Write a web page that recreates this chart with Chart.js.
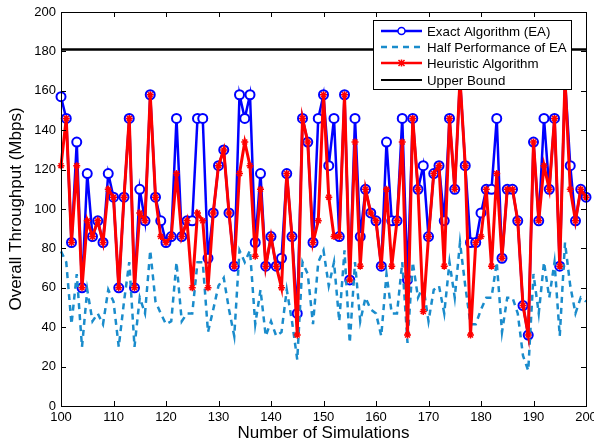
<!DOCTYPE html>
<html>
<head>
<meta charset="utf-8">
<script src="https://cdn.jsdelivr.net/npm/chart.js@4.4.1/dist/chart.umd.min.js"></script>
<style>
  html, body { margin: 0; padding: 0; background: #fff; }
  #wrap { width: 594px; height: 444px; }
</style>
</head>
<body>
<div id="wrap"><canvas id="myChart" width="594" height="444"></canvas></div>
<script>
// x axis: simulation number 100..200
const simulations = Array.from({ length: 101 }, (_, i) => 100 + i);

// Exact Algorithm (EA)
const exactAlg = [
  157, 146, 83, 134, 60, 118, 86, 94, 83, 118,
  106, 60, 106, 146, 60, 110, 94, 158, 106, 94,
  83, 86, 146, 86, 94, 94, 146, 146, 75, 98,
  122, 130, 98, 71, 158, 146, 158, 83, 118, 71,
  86, 71, 75, 118, 86, 47, 146, 134, 83, 146,
  158, 122, 146, 86, 158, 64, 146, 86, 110, 98,
  94, 71, 134, 94, 94, 146, 64, 146, 110, 122,
  86, 118, 122, 94, 146, 110, 166, 122, 83, 83,
  98, 110, 110, 146, 75, 110, 110, 94, 51, 36,
  134, 94, 146, 110, 146, 71, 166, 122, 94, 110, 106
];

// Half Performance of EA
const halfEA = [
  78.5, 73, 41.5, 67, 30, 59, 43, 47, 41.5, 59,
  53, 30, 53, 73, 30, 55, 47, 79, 53, 47,
  41.5, 43, 73, 43, 47, 47, 73, 73, 37.5, 49,
  61, 65, 49, 35.5, 79, 73, 79, 41.5, 59, 35.5,
  43, 35.5, 37.5, 59, 43, 23.5, 73, 67, 41.5, 73,
  79, 61, 73, 43, 79, 32, 73, 43, 55, 49,
  47, 35.5, 67, 47, 47, 73, 32, 73, 55, 61,
  43, 59, 61, 47, 73, 55, 83, 61, 41.5, 41.5,
  49, 55, 55, 73, 37.5, 55, 55, 47, 25.5, 18,
  67, 47, 73, 55, 73, 35.5, 83, 61, 47, 55, 53
];

// Heuristic Algorithm
const heuristicAlg = [
  122, 146, 83, 122, 60, 94, 86, 94, 83, 110,
  106, 60, 106, 146, 60, 98, 94, 158, 106, 86,
  83, 86, 118, 86, 94, 60, 98, 94, 60, 98,
  122, 130, 98, 71, 118, 134, 122, 76, 110, 71,
  86, 71, 60, 118, 86, 36, 146, 134, 83, 94,
  158, 106, 86, 86, 158, 64, 134, 71, 110, 98,
  94, 71, 110, 71, 94, 134, 36, 146, 110, 48,
  86, 118, 122, 71, 146, 110, 166, 122, 36, 83,
  86, 110, 71, 118, 75, 110, 110, 94, 51, 36,
  134, 94, 122, 110, 146, 71, 166, 110, 94, 110, 106
];

const upperBound = 181;
const yTicks = [0, 20, 40, 60, 80, 100, 120, 140, 160, 180, 200];
const xTicks = [100, 110, 120, 130, 140, 150, 160, 170, 180, 190, 200];

const blue = '#0000ff';
const lightBlue = '#1a8ccc';
const red = '#ff0000';
const fontFamily = '"Liberation Sans", Arial, sans-serif';

// matlab style box with inward ticks + legend
const boxPlugin = {
  id: 'matlabBox',
  afterDraw(chart) {
    const ctx = chart.ctx;
    const a = chart.chartArea;
    const xs = chart.scales.x;
    const ys = chart.scales.y;
    ctx.save();
    ctx.strokeStyle = '#000';
    ctx.lineWidth = 1;
    ctx.strokeRect(a.left + 0.5, a.top + 0.5, a.right - a.left, a.bottom - a.top);
    xTicks.forEach((v) => {
      const px = Math.round(xs.getPixelForValue(v)) + 0.5;
      ctx.beginPath();
      ctx.moveTo(px, a.bottom); ctx.lineTo(px, a.bottom - 5);
      ctx.moveTo(px, a.top); ctx.lineTo(px, a.top + 5);
      ctx.stroke();
    });
    yTicks.forEach((v) => {
      const py = Math.round(ys.getPixelForValue(v)) + 0.5;
      ctx.beginPath();
      ctx.moveTo(a.left, py); ctx.lineTo(a.left + 5, py);
      ctx.moveTo(a.right, py); ctx.lineTo(a.right - 5, py);
      ctx.stroke();
    });

    // legend
    const lx = 373, ly = 20, lw = 198, lh = 69;
    ctx.fillStyle = '#fff';
    ctx.fillRect(lx, ly, lw, lh);
    ctx.strokeStyle = '#000';
    ctx.strokeRect(lx + 0.5, ly + 0.5, lw, lh);
    const rows = [
      { label: 'Exact Algorithm (EA)', color: blue, dash: [], marker: 'circle', y: 31 },
      { label: 'Half Performance of EA', color: lightBlue, dash: [6, 5], marker: null, y: 47 },
      { label: 'Heuristic Algorithm', color: red, dash: [], marker: 'star', y: 63 },
      { label: 'Upper Bound', color: '#000', dash: [], marker: null, y: 80 }
    ];
    rows.forEach((r) => {
      ctx.setLineDash(r.dash);
      ctx.strokeStyle = r.color;
      ctx.lineWidth = r.color === '#000' ? 2 : 2.5;
      ctx.beginPath();
      ctx.moveTo(381, r.y); ctx.lineTo(422, r.y);
      ctx.stroke();
      ctx.setLineDash([]);
      if (r.marker === 'circle') {
        ctx.fillStyle = '#fff';
        ctx.lineWidth = 1.5;
        ctx.beginPath();
        ctx.arc(401.5, r.y, 3.5, 0, Math.PI * 2);
        ctx.fill(); ctx.stroke();
      } else if (r.marker === 'star') {
        ctx.lineWidth = 1.5;
        ctx.beginPath();
        ctx.moveTo(398.5, r.y - 3); ctx.lineTo(404.5, r.y + 3);
        ctx.moveTo(404.5, r.y - 3); ctx.lineTo(398.5, r.y + 3);
        ctx.moveTo(401.5, r.y - 3.5); ctx.lineTo(401.5, r.y + 3.5);
        ctx.stroke();
      }
      ctx.fillStyle = '#000';
      ctx.font = '13.3px ' + fontFamily;
      ctx.textBaseline = 'middle';
      ctx.textAlign = 'left';
      ctx.fillText(r.label, 427, r.y + 1);
    });
    ctx.restore();
  }
};

const ctx = document.getElementById('myChart');

new Chart(ctx, {
  type: 'line',
  data: {
    labels: simulations,
    datasets: [
      {
        label: 'Exact Algorithm (EA)',
        data: exactAlg,
        borderColor: blue,
        backgroundColor: '#fff',
        borderWidth: 2.5,
        pointStyle: 'circle',
        pointRadius: 4.5,
        pointBorderWidth: 2,
        pointBorderColor: blue,
        pointBackgroundColor: '#fff',
        tension: 0,
        order: 4
      },
      {
        label: 'Half Performance of EA',
        data: halfEA,
        borderColor: lightBlue,
        borderWidth: 2.5,
        borderDash: [6, 5],
        pointRadius: 0,
        tension: 0,
        order: 3
      },
      {
        label: 'Heuristic Algorithm',
        data: heuristicAlg,
        borderColor: red,
        backgroundColor: red,
        borderWidth: 3,
        pointStyle: 'star',
        pointRadius: 3.5,
        pointBorderWidth: 1.5,
        pointBorderColor: red,
        tension: 0,
        order: 2
      },
      {
        label: 'Upper Bound',
        data: [{ x: 100, y: upperBound }, { x: 200, y: upperBound }],
        borderColor: '#000',
        borderWidth: 2.5,
        pointRadius: 0,
        order: 1
      }
    ]
  },
  options: {
    responsive: false,
    animation: false,
    clip: false,
    layout: { padding: { left: 0, right: 8, top: 12, bottom: 0 } },
    plugins: {
      legend: { display: false },
      tooltip: { enabled: false }
    },
    scales: {
      x: {
        type: 'linear',
        min: 100,
        max: 200,
        afterFit: (s) => { s.height = 38; s.paddingLeft = 0; s.paddingRight = 0; },
        afterBuildTicks: (s) => { s.ticks = xTicks.map((v) => ({ value: v })); },
        grid: { display: false, drawTicks: false },
        border: { display: false },
        ticks: {
          color: '#000',
          padding: 4,
          maxRotation: 0,
          font: { family: fontFamily, size: 13 }
        },
        title: {
          display: true,
          text: 'Number of Simulations',
          color: '#000',
          padding: { top: 0, bottom: 0 },
          font: { family: fontFamily, size: 17 }
        }
      },
      y: {
        min: 0,
        max: 200,
        afterFit: (s) => { s.width = 61; s.paddingTop = 0; s.paddingBottom = 0; },
        afterBuildTicks: (s) => { s.ticks = yTicks.map((v) => ({ value: v })); },
        grid: { display: false, drawTicks: false },
        border: { display: false },
        ticks: {
          color: '#000',
          padding: 5,
          font: { family: fontFamily, size: 13 }
        },
        title: {
          display: true,
          text: 'Overall Throughput (Mbps)',
          color: '#000',
          padding: { top: 6, bottom: 0 },
          font: { family: fontFamily, size: 17 }
        }
      }
    }
  },
  plugins: [boxPlugin]
});
</script>
</body>
</html>
